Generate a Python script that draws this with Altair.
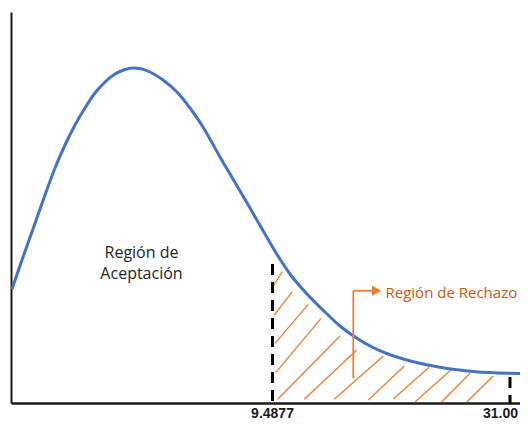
import altair as alt
import pandas as pd

# Curve (x units from y-axis, y units above x-axis)
curve_x = [1, 11, 22, 34, 44, 54, 64, 74, 84, 94, 104, 114, 122, 131, 139, 152, 166, 179, 192, 199,
           209, 222, 239, 254, 267, 279, 296, 314, 329, 344, 361, 377, 394, 411, 429, 444, 462, 479, 496, 517]
curve_y = [114, 143, 174, 208, 235, 258, 278, 295, 310, 321, 329, 333.5, 335, 334, 331, 323, 311, 295, 276, 264,
           246, 224, 195, 169, 147, 129, 109, 91, 77, 66, 56, 49, 43.5, 39.2, 35.7, 33.5, 31.6, 30.4, 29.7, 29.4]

# Hatch segments in the rejection region
hatch_x1 = [262.3, 263.3, 264, 264.7, 266.7, 293.3, 323.3, 357.3, 382.3, 404, 430.7, 455.7]
hatch_y1 = [117, 88, 59.7, 30.3, 3.7, 3.7, 3.7, 3, 4, 1, 1, 1]
hatch_x2 = [271.3, 281.3, 297.3, 310, 329, 345.7, 372.3, 393.3, 418, 440.7, 459, 482.3]
hatch_y2 = [131.3, 111.3, 98.7, 84.7, 67, 53, 47, 37, 35.7, 33.7, 29.7, 27]

# Critical value markers
crit_x = [261.5, 499]
crit_top = [139, 26]
crit_labels = ["9.4877", "31.00"]

# Arrow annotation
arrow_vx = [342.3]
arrow_vy = [24.7]
arrow_vy2 = [112.3]
arrow_hx2 = [361]
arrow_head_x = [365.5]

accept_lines = ["Región de", "Aceptación"]
accept_x = [130.5, 130.5]
accept_y = [145, 124]
reject_label = ["Región de Rechazo"]
reject_x = [374.5]
reject_y = [105.3]

W, H = 509, 391
xs = alt.Scale(domain=[0, W], nice=False, zero=False)
ys = alt.Scale(domain=[0, H], nice=False, zero=False)
xax = alt.Axis(title=None, labels=False, ticks=False, grid=False, domainColor="#1a1a1a", domainWidth=2.5)
yax = alt.Axis(title=None, labels=False, ticks=False, grid=False, domainColor="#1a1a1a", domainWidth=2)

df_curve = pd.DataFrame({"x": curve_x, "y": curve_y})
curve = alt.Chart(df_curve).mark_line(color="#4472C4", strokeWidth=3, interpolate="monotone",
                                      clip=True).encode(
    x=alt.X("x:Q", scale=xs, axis=xax), y=alt.Y("y:Q", scale=ys, axis=yax))

df_hatch = pd.DataFrame({"x": hatch_x1, "y": hatch_y1, "x2": hatch_x2, "y2": hatch_y2})
hatch = alt.Chart(df_hatch).mark_rule(color="#ED7D31", strokeWidth=1.3).encode(
    x=alt.X("x:Q", scale=xs, axis=xax), y=alt.Y("y:Q", scale=ys, axis=yax), x2="x2:Q", y2="y2:Q")

df_crit = pd.DataFrame({"x": crit_x, "top": crit_top, "bot": [0, 0], "label": crit_labels})
crit = alt.Chart(df_crit).mark_rule(color="#000000", strokeWidth=3, strokeDash=[11, 7]).encode(
    x=alt.X("x:Q", scale=xs, axis=xax), y=alt.Y("top:Q", scale=ys, axis=yax), y2="bot:Q")
crit_text1 = alt.Chart(df_crit.iloc[[0]]).mark_text(font="Liberation Sans", fontSize=14, fontWeight="bold",
                                                    color="#1a1a1a", align="center", baseline="alphabetic",
                                                    dy=14.5).encode(
    x=alt.X("x:Q", scale=xs, axis=xax), y=alt.value(H), text="label:N")
crit_text2 = alt.Chart(df_crit.iloc[[1]]).mark_text(font="Liberation Sans", fontSize=14, fontWeight="bold",
                                                    color="#1a1a1a", align="right", baseline="alphabetic",
                                                    dx=8, dy=14.5).encode(
    x=alt.X("x:Q", scale=xs, axis=xax), y=alt.value(H), text="label:N")

df_arrow = pd.DataFrame({"x": arrow_vx, "y": arrow_vy, "y2": arrow_vy2, "x2": arrow_hx2, "hx": arrow_head_x})
arrow_v = alt.Chart(df_arrow).mark_rule(color="#ED7D31", strokeWidth=1.8).encode(
    x=alt.X("x:Q", scale=xs, axis=xax), y=alt.Y("y:Q", scale=ys, axis=yax), y2="y2:Q")
arrow_h = alt.Chart(df_arrow).mark_rule(color="#ED7D31", strokeWidth=1.8).encode(
    x=alt.X("x:Q", scale=xs, axis=xax), x2="x2:Q", y=alt.Y("y2:Q", scale=ys, axis=yax))
arrow_head = alt.Chart(df_arrow).mark_point(shape="triangle-right", filled=True, color="#ED7D31",
                                            size=110, opacity=1).encode(
    x=alt.X("hx:Q", scale=xs, axis=xax), y=alt.Y("y2:Q", scale=ys, axis=yax))

df_acc = pd.DataFrame({"x": accept_x, "y": accept_y, "t": accept_lines})
acc = alt.Chart(df_acc).mark_text(font="Open Sans", fontSize=16, color="#262626", align="center",
                                  baseline="alphabetic").encode(
    x=alt.X("x:Q", scale=xs, axis=xax), y=alt.Y("y:Q", scale=ys, axis=yax), text="t:N")

df_rej = pd.DataFrame({"x": reject_x, "y": reject_y, "t": reject_label})
rej = alt.Chart(df_rej).mark_text(font="Open Sans", fontSize=15, color="#C55A11", align="left",
                                  baseline="alphabetic").encode(
    x=alt.X("x:Q", scale=xs, axis=xax), y=alt.Y("y:Q", scale=ys, axis=yax), text="t:N")

chart = alt.layer(hatch, curve, crit, crit_text1, crit_text2, arrow_v, arrow_h, arrow_head, acc, rej).properties(
    width=W, height=H,
    autosize=alt.AutoSizeParams(type="none"),
    padding={"left": 3, "top": 4, "right": 0, "bottom": 17},
).configure_view(stroke=None)

chart.save("out.html", embed_options={"renderer": "svg", "actions": False})
